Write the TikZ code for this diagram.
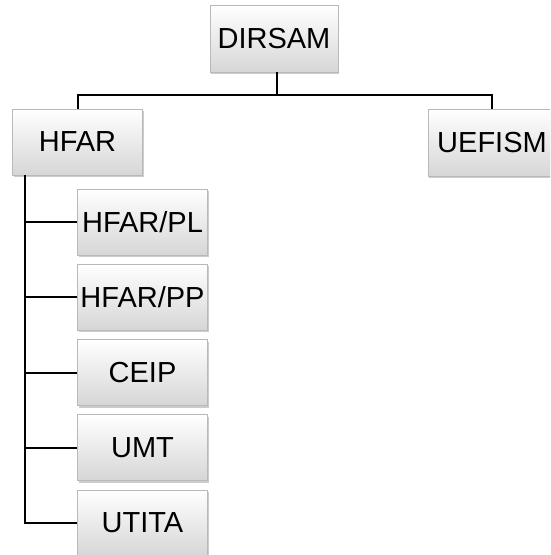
\documentclass[tikz,border=0pt]{standalone}
\usepackage{fontspec}
\setmainfont{Liberation Sans}
\usetikzlibrary{shadows}
\begin{document}
\begin{tikzpicture}[x=1pt,y=-1pt,
  orgbox/.style={draw=gray!55, line width=0.8pt, top color=white, bottom color=gray!32,
    drop shadow={opacity=0.4, shadow xshift=1pt, shadow yshift=-2pt},
    minimum width=130pt, minimum height=66pt, inner sep=0pt,
    font=\fontsize{29}{31}\selectfont},
  conn/.style={draw=black, line width=2pt}]
\clip (0,0) rectangle (550,555);
\fill[white] (0,0) rectangle (550,555);
\node[orgbox, minimum width=128pt, minimum height=67pt] (D) at (274,38.5) {DIRSAM};
\node[orgbox] (H) at (77.5,142) {HFAR};
\node[orgbox, minimum width=128pt, minimum height=67pt] (U) at (492,142.5) {UEFISM};
\node[orgbox] (C1) at (142.5,222) {HFAR/PL};
\node[orgbox] (C2) at (142.5,297) {HFAR/PP};
\node[orgbox] (C3) at (142.5,372.5) {CEIP};
\node[orgbox] (C4) at (142.5,447.5) {UMT};
\node[orgbox] (C5) at (142.5,523) {UTITA};
\coordinate (bus) at (277,95);
\coordinate (trunk) at (25,175);
\draw[conn] (D.south -| bus) -- (bus);
\draw[conn] (H.north) |- (bus) -| (U.north);
\draw[conn] (trunk) |- (C5.west);
\foreach \c in {C1,C2,C3,C4} \draw[conn] (trunk |- \c.west) -- (\c.west);
\end{tikzpicture}
\end{document}
